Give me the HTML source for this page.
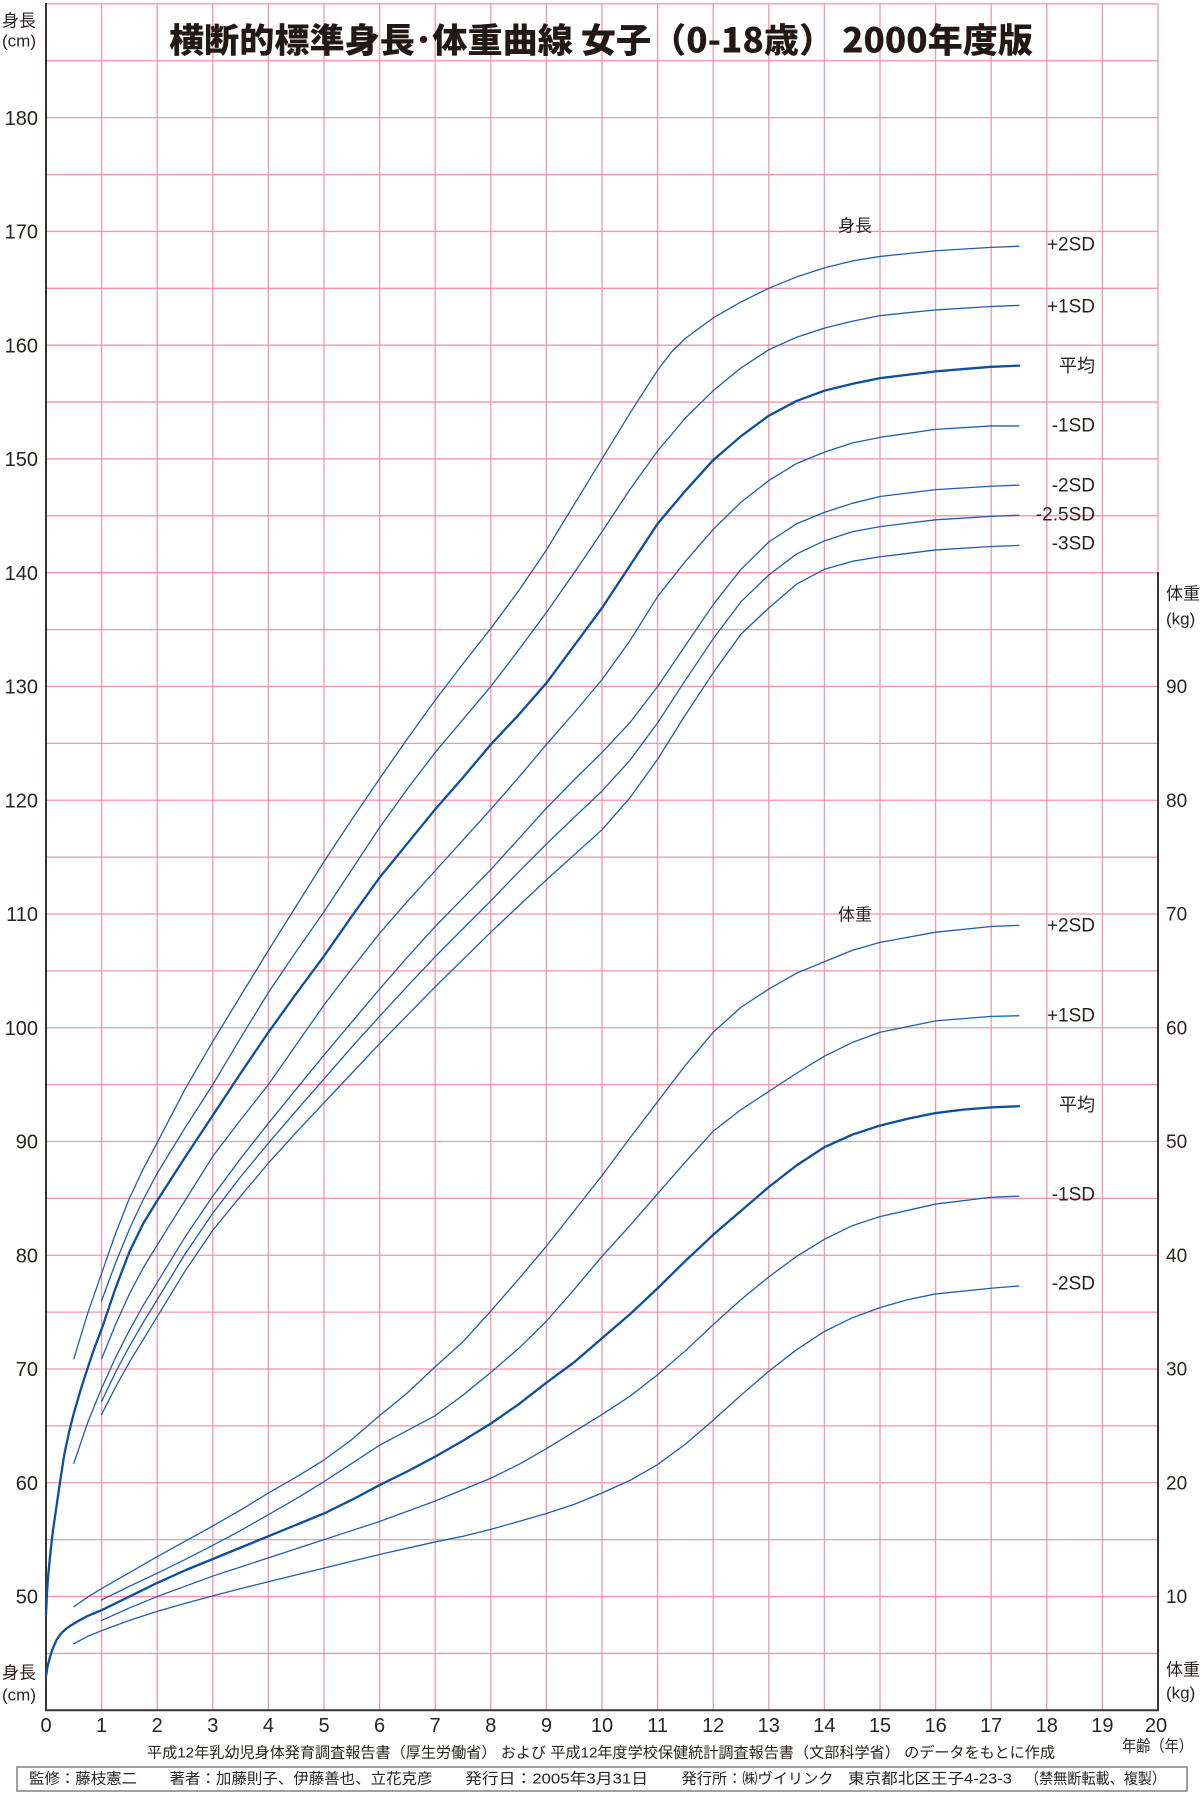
<!DOCTYPE html>
<html>
<head>
<meta charset="utf-8">
<style>
html,body{margin:0;padding:0;background:#fff;}
svg{display:block;}
text{fill:#2a2320;}
.lat{font-family:"Liberation Sans","Noto Sans CJK JP",sans-serif;}
.jp{font-family:"Liberation Sans","Noto Sans CJK JP",sans-serif;}
.g line{vector-effect:non-scaling-stroke;}
.c polyline{vector-effect:non-scaling-stroke;fill:none;stroke-linejoin:round;stroke-linecap:round;}
</style>
</head>
<body>
<svg width="1200" height="1794" viewBox="0 0 1200 1794" xmlns="http://www.w3.org/2000/svg">
<rect x="0" y="0" width="1200" height="1794" fill="#fff"/>

<!-- grid in data units: x=age, y=cm -->
<g class="g" transform="matrix(55.6,0,0,-11.376,46,2165.34)" stroke="#f295aa" stroke-width="1.3">
  <line x1="1" y1="40" x2="1" y2="190"/><line x1="2" y1="40" x2="2" y2="190"/>
  <line x1="3" y1="40" x2="3" y2="190"/><line x1="4" y1="40" x2="4" y2="190"/>
  <line x1="5" y1="40" x2="5" y2="190"/><line x1="6" y1="40" x2="6" y2="190"/>
  <line x1="7" y1="40" x2="7" y2="190"/><line x1="8" y1="40" x2="8" y2="190"/>
  <line x1="9" y1="40" x2="9" y2="190"/><line x1="10" y1="40" x2="10" y2="190"/>
  <line x1="11" y1="40" x2="11" y2="190"/><line x1="12" y1="40" x2="12" y2="190"/>
  <line x1="13" y1="40" x2="13" y2="190"/><line x1="14" y1="40" x2="14" y2="190"/>
  <line x1="15" y1="40" x2="15" y2="190"/><line x1="16" y1="40" x2="16" y2="190"/>
  <line x1="17" y1="40" x2="17" y2="190"/><line x1="18" y1="40" x2="18" y2="190"/>
  <line x1="19" y1="40" x2="19" y2="190"/>
  <line x1="20" y1="140" x2="20" y2="190"/>
  <line x1="0" y1="45" x2="20" y2="45"/><line x1="0" y1="50" x2="20" y2="50"/>
  <line x1="0" y1="55" x2="20" y2="55"/><line x1="0" y1="60" x2="20" y2="60"/>
  <line x1="0" y1="65" x2="20" y2="65"/><line x1="0" y1="70" x2="20" y2="70"/>
  <line x1="0" y1="75" x2="20" y2="75"/><line x1="0" y1="80" x2="20" y2="80"/>
  <line x1="0" y1="85" x2="20" y2="85"/><line x1="0" y1="90" x2="20" y2="90"/>
  <line x1="0" y1="95" x2="20" y2="95"/><line x1="0" y1="100" x2="20" y2="100"/>
  <line x1="0" y1="105" x2="20" y2="105"/><line x1="0" y1="110" x2="20" y2="110"/>
  <line x1="0" y1="115" x2="20" y2="115"/><line x1="0" y1="120" x2="20" y2="120"/>
  <line x1="0" y1="125" x2="20" y2="125"/><line x1="0" y1="130" x2="20" y2="130"/>
  <line x1="0" y1="135" x2="20" y2="135"/><line x1="0" y1="140" x2="20" y2="140"/>
  <line x1="0" y1="145" x2="20" y2="145"/><line x1="0" y1="150" x2="20" y2="150"/>
  <line x1="0" y1="155" x2="20" y2="155"/><line x1="0" y1="160" x2="20" y2="160"/>
  <line x1="0" y1="165" x2="20" y2="165"/><line x1="0" y1="170" x2="20" y2="170"/>
  <line x1="0" y1="175" x2="20" y2="175"/><line x1="0" y1="180" x2="20" y2="180"/>
  <line x1="0" y1="185" x2="20" y2="185"/><line x1="0" y1="190" x2="20" y2="190"/>
</g>

<!-- axes -->
<g stroke="#3b3330" stroke-width="2">
  <line x1="46" y1="3" x2="46" y2="1711"/>
  <line x1="45" y1="1710.3" x2="1159" y2="1710.3"/>
  <line x1="1158" y1="572" x2="1158" y2="1711"/>
</g>

<!-- Title -->
<text x="169" y="38" font-size="34" font-weight="900" textLength="864" lengthAdjust="spacingAndGlyphs" dominant-baseline="central" style="font-family:'Noto Sans CJK JP','Noto Sans CJK SC',sans-serif;fill:#231815">横断的標準身長･体重曲線 女子（0-18歳） 2000年度版</text>

<!-- height curves (x=age, y=cm) -->
<g class="c" transform="matrix(55.6,0,0,-11.376,46,2165.34)">
  <g stroke="#1d5fae" stroke-width="1.3">
    <polyline points="0.5,70.9 0.75,74.9 1,78.4 1.25,81.9 1.5,85.0 1.75,87.6 2,89.9 2.5,94.6 3,98.8 3.5,102.8 4,106.8 4.5,110.7 5,114.6 5.5,118.3 6,121.9 6.5,125.4 7,128.8 7.5,132.0 8,135.1 8.5,138.4 9,142.0 9.5,146.0 10,150.0 10.5,154.0 11,157.8 11.25,159.4 11.5,160.6 12,162.4 12.5,163.8 13,165.0 13.5,166.0 14,166.8 14.5,167.4 15,167.8 16,168.3 17,168.6 17.5,168.7"/>
    <polyline points="1,76.0 1.25,79.3 1.5,82.3 1.75,84.9 2,87.2 2.5,91.2 3,95.0 3.5,99.1 4,103.1 4.5,106.7 5,110.2 5.5,113.9 6,117.6 6.5,121.0 7,124.2 7.5,127.1 8,130.0 8.5,133.2 9,136.5 9.5,140.0 10,143.6 10.5,147.3 11,150.7 11.5,153.6 12,156.0 12.5,158.0 13,159.6 13.5,160.7 14,161.5 14.5,162.1 15,162.6 16,163.1 17,163.4 17.5,163.5"/>
    <polyline points="1,70.9 1.25,73.9 1.5,76.6 1.75,78.9 2,80.9 2.5,84.8 3,88.7 3.5,91.9 4,95.0 4.5,98.5 5,102.0 5.5,105.2 6,108.3 6.5,111.1 7,113.8 7.5,116.5 8,119.2 8.5,122.0 9,124.9 9.5,127.7 10,130.6 10.5,134.0 11,137.9 11.5,141.0 12,143.8 12.5,146.2 13,148.1 13.5,149.6 14,150.6 14.5,151.4 15,151.9 16,152.6 17,152.9 17.5,152.9"/>
    <polyline points="0.5,61.7 0.75,65.3 1,68.3 1.25,71.0 1.5,73.4 1.75,75.6 2,77.6 2.5,81.6 3,85.2 3.5,88.5 4,91.6 4.5,94.6 5,97.6 5.5,100.5 6,103.4 6.5,106.2 7,108.9 7.5,111.4 8,113.9 8.5,116.6 9,119.3 9.5,121.8 10,124.2 10.5,126.8 11,130.0 11.5,133.6 12,137.2 12.5,140.3 13,142.7 13.5,144.3 14,145.3 14.5,146.1 15,146.7 16,147.3 17,147.6 17.5,147.7"/>
    <polyline points="1,67.15 1.25,69.7 1.5,72.0 1.75,74.1 2,76.1 2.5,80.1 3,83.7 3.5,86.9 4,89.85 4.5,92.7 5,95.5 5.5,98.3 6,101.0 6.5,103.65 7,106.25 7.5,108.7 8,111.15 8.5,113.7 9,116.15 9.5,118.5 10,120.8 10.5,123.5 11,126.8 11.5,130.55 12,134.2 12.5,137.45 13,139.8 13.5,141.65 14,142.8 14.5,143.6 15,144.05 16,144.65 17,144.95 17.5,145.05"/>
    <polyline points="1,66.0 1.25,68.4 1.5,70.6 1.75,72.6 2,74.6 2.5,78.6 3,82.2 3.5,85.2 4,88.1 4.5,90.8 5,93.4 5.5,96.0 6,98.6 6.5,101.1 7,103.6 7.5,106.0 8,108.4 8.5,110.7 9,113.0 9.5,115.2 10,117.4 10.5,120.2 11,123.6 11.5,127.5 12,131.2 12.5,134.6 13,136.9 13.5,139.0 14,140.3 14.5,141.0 15,141.4 16,142.0 17,142.3 17.5,142.4"/>
  </g>
  <polyline stroke="#0b4f9f" stroke-width="2.3" points="0,48.4 0.02,50.5 0.042,52.0 0.083,54.0 0.125,55.8 0.167,57.2 0.25,60.0 0.333,62.6 0.417,64.5 0.5,66.1 0.625,68.2 0.75,70.1 0.875,71.9 1,73.5 1.25,77.1 1.5,80.3 1.75,82.8 2,84.8 2.5,88.6 3,92.3 3.5,96.0 4,99.6 4.5,103.0 5,106.3 5.5,109.8 6,113.2 6.5,116.2 7,119.2 7.5,122.0 8,124.9 8.5,127.5 9,130.3 9.5,133.6 10,136.9 10.5,140.6 11,144.3 11.5,147.2 12,149.9 12.5,152.0 13,153.8 13.5,155.1 14,156.0 14.5,156.6 15,157.1 15.5,157.4 16,157.7 16.5,157.9 17,158.1 17.5,158.2"/>
</g>

<!-- weight curves (x=age, y=kg) -->
<g class="c" transform="matrix(55.6,0,0,-11.376,46,1710.3)">
  <g stroke="#1d5fae" stroke-width="1.3">
    <polyline points="0.5,9.1 0.75,9.95 1,10.7 1.5,12.1 2,13.5 2.5,14.85 3,16.2 3.5,17.6 4,19.1 4.5,20.5 5,22.0 5.5,23.8 6,25.9 6.5,27.9 7,30.2 7.5,32.4 8,35.1 8.5,37.9 9,40.8 9.5,43.9 10,47.0 10.5,50.3 11,53.5 11.5,56.7 12,59.6 12.5,61.8 13,63.4 13.5,64.8 14,65.8 14.5,66.8 15,67.5 16,68.4 17,68.9 17.5,69.0"/>
    <polyline points="1,9.7 1.5,10.9 2,12.05 2.5,13.25 3,14.5 3.5,15.8 4,17.2 4.5,18.6 5,20.1 5.5,21.7 6,23.3 6.5,24.6 7,25.9 7.5,27.7 8,29.7 8.5,31.8 9,34.2 9.5,37.0 10,39.9 10.5,42.6 11,45.4 11.5,48.2 12,50.9 12.5,52.8 13,54.4 13.5,56.0 14,57.5 14.5,58.7 15,59.6 16,60.6 17,61.0 17.5,61.05"/>
    <polyline points="1,7.9 1.5,9.0 2,10.0 2.5,10.9 3,11.8 3.5,12.6 4,13.4 4.5,14.2 5,15.0 5.5,15.8 6,16.6 6.5,17.5 7,18.4 7.5,19.4 8,20.4 8.5,21.6 9,23.0 9.5,24.5 10,26.0 10.5,27.6 11,29.5 11.5,31.6 12,33.9 12.5,36.1 13,38.1 13.5,39.9 14,41.4 14.5,42.6 15,43.4 16,44.5 17,45.1 17.5,45.2"/>
    <polyline points="0.5,5.85 0.75,6.5 1,7.0 1.5,7.9 2,8.7 2.5,9.4 3,10.06 3.5,10.7 4,11.3 4.5,11.9 5,12.5 5.5,13.1 6,13.7 6.5,14.25 7,14.8 7.5,15.3 8,15.9 8.5,16.6 9,17.3 9.5,18.1 10,19.1 10.5,20.2 11,21.6 11.5,23.4 12,25.5 12.5,27.7 13,29.8 13.5,31.7 14,33.3 14.5,34.5 15,35.4 15.5,36.1 16,36.6 17,37.1 17.5,37.3"/>
  </g>
  <polyline stroke="#0b4f9f" stroke-width="2.3" points="0,3.0 0.03,3.9 0.072,4.7 0.12,5.4 0.19,6.2 0.28,6.8 0.37,7.2 0.46,7.5 0.6,7.9 0.75,8.3 1,8.8 1.5,10.0 2,11.2 2.5,12.3 3,13.3 3.5,14.3 4,15.3 4.5,16.3 5,17.3 5.5,18.5 6,19.8 6.5,21.0 7,22.3 7.5,23.7 8,25.2 8.5,26.9 9,28.8 9.5,30.6 10,32.7 10.5,34.8 11,37.1 11.5,39.5 12,41.8 12.5,43.9 13,46.0 13.5,47.9 14,49.5 14.5,50.6 15,51.4 15.5,52.0 16,52.5 16.5,52.8 17,53.0 17.5,53.1"/>
</g>

<!-- left tick labels -->
<g class="lat" font-size="20" text-anchor="end" dominant-baseline="central">
  <text x="38" y="119">180</text>
  <text x="38" y="232.5">170</text>
  <text x="38" y="346.5">160</text>
  <text x="38" y="460">150</text>
  <text x="38" y="574">140</text>
  <text x="38" y="687.5">130</text>
  <text x="38" y="801.5">120</text>
  <text x="38" y="915">110</text>
  <text x="38" y="1029">100</text>
  <text x="38" y="1142.5">90</text>
  <text x="38" y="1256.5">80</text>
  <text x="38" y="1370">70</text>
  <text x="38" y="1484">60</text>
  <text x="38" y="1597.5">50</text>
</g>

<!-- right tick labels -->
<g class="lat" font-size="19" text-anchor="start" dominant-baseline="central">
  <text x="1166" y="687.5">90</text>
  <text x="1166" y="801.5">80</text>
  <text x="1166" y="915">70</text>
  <text x="1166" y="1029">60</text>
  <text x="1166" y="1142.5">50</text>
  <text x="1166" y="1256.5">40</text>
  <text x="1166" y="1370">30</text>
  <text x="1166" y="1484">20</text>
  <text x="1166" y="1597.5">10</text>
</g>

<!-- bottom tick labels -->
<g class="lat" font-size="20" text-anchor="middle" dominant-baseline="central">
  <text x="46" y="1726">0</text>
  <text x="101.6" y="1726">1</text>
  <text x="157.2" y="1726">2</text>
  <text x="212.8" y="1726">3</text>
  <text x="268.4" y="1726">4</text>
  <text x="324" y="1726">5</text>
  <text x="379.6" y="1726">6</text>
  <text x="435.2" y="1726">7</text>
  <text x="490.8" y="1726">8</text>
  <text x="546.4" y="1726">9</text>
  <text x="602" y="1726">10</text>
  <text x="657.6" y="1726">11</text>
  <text x="713.2" y="1726">12</text>
  <text x="768.8" y="1726">13</text>
  <text x="824.4" y="1726">14</text>
  <text x="880" y="1726">15</text>
  <text x="935.6" y="1726">16</text>
  <text x="991.2" y="1726">17</text>
  <text x="1046.8" y="1726">18</text>
  <text x="1102.4" y="1726">19</text>
  <text x="1156" y="1726">20</text>
</g>

<!-- axis titles -->
<g class="jp" font-size="17" dominant-baseline="central">
  <text x="36" y="21" text-anchor="end">身長</text>
  <text x="36" y="41" text-anchor="end">(cm)</text>
  <text x="36" y="1673" text-anchor="end">身長</text>
  <text x="36" y="1695" text-anchor="end">(cm)</text>
  <text x="1166" y="594">体重</text>
  <text x="1166" y="619">(kg)</text>
  <text x="1166" y="1670">体重</text>
  <text x="1166" y="1693">(kg)</text>
  <text x="1122" y="1747" font-size="16" textLength="71" lengthAdjust="spacingAndGlyphs">年齢（年）</text>
</g>

<!-- curve labels -->
<g class="jp" dominant-baseline="central">
  <text x="855" y="226" font-size="17" text-anchor="middle">身長</text>
  <text x="855" y="915" font-size="17" text-anchor="middle">体重</text>
</g>
<g class="lat" font-size="19" text-anchor="end" dominant-baseline="central">
  <text x="1095" y="245">+2SD</text>
  <text x="1095" y="307">+1SD</text>
  <text x="1095" y="366" font-size="18">平均</text>
  <text x="1095" y="426">-1SD</text>
  <text x="1095" y="486">-2SD</text>
  <text x="1095" y="515">-2.5SD</text>
  <text x="1095" y="544">-3SD</text>
  <text x="1095" y="926">+2SD</text>
  <text x="1095" y="1016">+1SD</text>
  <text x="1095" y="1105" font-size="18">平均</text>
  <text x="1095" y="1195">-1SD</text>
  <text x="1095" y="1284">-2SD</text>
</g>

<!-- source line -->
<text class="jp" x="147" y="1753" font-size="15" dominant-baseline="central" textLength="908" lengthAdjust="spacingAndGlyphs">平成12年乳幼児身体発育調査報告書（厚生労働省） および 平成12年度学校保健統計調査報告書（文部科学省） のデータをもとに作成</text>

<!-- footer box -->
<rect x="17" y="1767" width="1170" height="24" fill="none" stroke="#808080" stroke-width="1.5"/>
<g class="jp" font-size="15" dominant-baseline="central">
  <text x="29" y="1779" textLength="108" lengthAdjust="spacingAndGlyphs">監修：藤枝憲二</text>
  <text x="169.5" y="1779" textLength="263" lengthAdjust="spacingAndGlyphs">著者：加藤則子、伊藤善也、立花克彦</text>
  <text x="465" y="1779" textLength="183" lengthAdjust="spacingAndGlyphs">発行日：2005年3月31日</text>
  <text x="681.5" y="1779" textLength="152" lengthAdjust="spacingAndGlyphs">発行所：㈱ヴイリンク</text>
  <text x="848" y="1779" textLength="164" lengthAdjust="spacingAndGlyphs">東京都北区王子4-23-3</text>
  <text x="1025" y="1779" textLength="141" lengthAdjust="spacingAndGlyphs">（禁無断転載、複製）</text>
</g>
</svg>
</body>
</html>
